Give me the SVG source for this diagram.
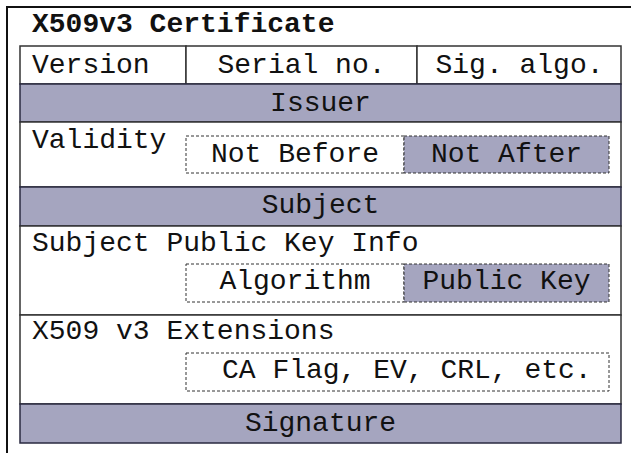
<svg xmlns="http://www.w3.org/2000/svg" width="631" height="453" viewBox="0 0 631 453">
<style>
text{font-family:"Liberation Mono","Courier New",monospace;font-size:28px;fill:#111}
.t{font-weight:bold}
.c{text-anchor:middle}
.cell{fill:#fff;stroke:#333;stroke-width:1.5}
.band{fill:#a5a5bf;stroke:#2a2a40;stroke-width:1.5}
.dw{fill:#fff;stroke:#333;stroke-width:1;stroke-dasharray:3 2}
.db{fill:#a5a5bf;stroke:#333;stroke-width:1;stroke-dasharray:3 2}
</style>
<rect width="631" height="453" fill="#fff"/>
<path d="M7 460V7H640" fill="none" stroke="#111" stroke-width="2"/>
<g id="title"><text class="t" x="32" y="32">X509v3 Certificate</text></g>
<g id="version"><rect class="cell" x="20" y="46" width="166" height="38"/><text x="32" y="73">Version</text></g>
<g id="serial"><rect class="cell" x="186" y="46" width="231" height="38"/><text class="c" x="301.5" y="73">Serial no.</text></g>
<g id="sigalgo"><rect class="cell" x="417" y="46" width="204" height="38"/><text class="c" x="519.5" y="73">Sig. algo.</text></g>
<g id="issuer"><rect class="band" x="20" y="84" width="601" height="38"/><text class="c" x="320.5" y="111">Issuer</text></g>
<g id="validity"><rect class="cell" x="20" y="122" width="601" height="65"/><text x="32" y="148">Validity</text>
<rect class="dw" x="186" y="136" width="218" height="37"/><text class="c" x="295" y="162">Not Before</text>
<rect class="db" x="404" y="136" width="205" height="37"/><text class="c" x="506.5" y="162">Not After</text></g>
<g id="subject"><rect class="band" x="20" y="187" width="601" height="39"/><text class="c" x="320.5" y="213">Subject</text></g>
<g id="spki"><rect class="cell" x="20" y="226" width="601" height="89"/><text x="32" y="251">Subject Public Key Info</text>
<rect class="dw" x="186" y="264" width="218" height="38"/><text class="c" x="295" y="289">Algorithm</text>
<rect class="db" x="404" y="264" width="205" height="38"/><text class="c" x="506.5" y="289">Public Key</text></g>
<g id="extensions"><rect class="cell" x="20" y="315" width="601" height="89"/><text x="32" y="339">X509 v3 Extensions</text>
<rect class="dw" x="186" y="353" width="423" height="38"/><text x="222" y="378">CA Flag, EV, CRL, etc.</text></g>
<g id="signature"><rect class="band" x="20" y="404" width="601" height="39"/><text class="c" x="320.5" y="431">Signature</text></g>
<g id="connectors"/>
</svg>
